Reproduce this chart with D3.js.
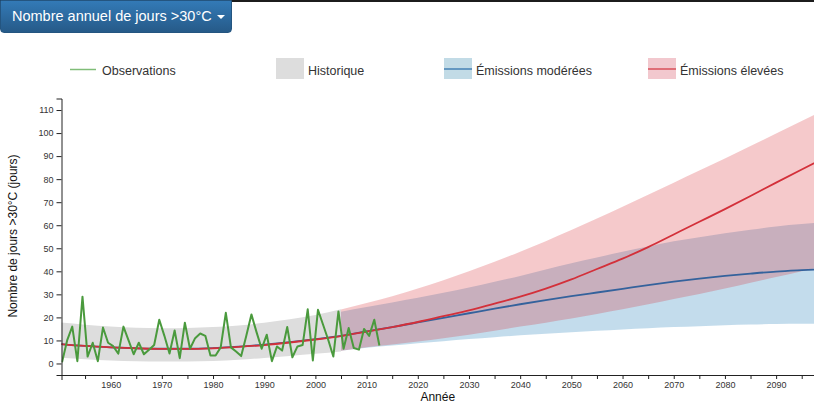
<!DOCTYPE html>
<html>
<head>
<meta charset="utf-8">
<script src="https://cdn.jsdelivr.net/npm/d3@7"></script>
<style>
  body { margin: 0; background: #fff; font-family: "Helvetica Neue", Helvetica, Arial, "Liberation Sans", sans-serif; }
  #topbar { position: absolute; left: 0; top: 0; width: 814px; height: 2px; background: #1c1c1c; }
  #btn {
    position: absolute; left: 0; top: 0; width: 232px; height: 33px; box-sizing: border-box;
    background: linear-gradient(to bottom, #337ab7 0, #265a88 100%);
    border: 1px solid #245580; border-radius: 0 0 4px 4px;
    color: #fff; font-size: 14.5px; line-height: 31px; padding-left: 11px; white-space: nowrap;
  }
  #btn .caret { display: inline-block; width: 0; height: 0; margin-left: 5px; vertical-align: middle;
    border-top: 4px solid #fff; border-left: 4px solid transparent; border-right: 4px solid transparent; }
  #chart { position: absolute; left: 0; top: 0; }
  .axis text { font-size: 9px; fill: #333; font-family: "Liberation Sans", Arial, sans-serif; }
  .axis path, .axis line { stroke: #222; }
</style>
</head>
<body>
<div id="topbar"></div>
<div id="btn">Nombre annuel de jours &gt;30°C<span class="caret"></span></div>
<div id="chart"></div>
<script>
// observations 1950-2012
var obsStart = 1950;
var obsValues = [0.5, 10, 16, 1, 29, 3, 9, 1, 15.6, 9,
  7.5, 4.3, 16, 10, 4, 9, 4, 6, 8, 19,
  12, 4.3, 14.3, 2.3, 17.7, 6.4, 11, 13, 12, 3.5,
  3.5, 7, 22, 7, 5.2, 3.2, 12, 21.3, 13.6, 6.4,
  12.5, 1, 7.4, 5.6, 15.8, 2.7, 7.4, 8, 23.5, 1.3,
  23.3, 16.8, 10.3, 3, 22.6, 6.4, 15.4, 6.7, 6, 15,
  12, 19, 7.8];

// modelled means, every 5 years 1950-2100
var meanYears = d3.range(1950, 2101, 5);
var modMean = [8.5, 7.6, 7.0, 6.6, 6.4, 6.4, 6.7, 7.3, 8.2, 9.3, 10.6, 12.0, 13.9, 15.8, 17.8, 19.8,
  21.8, 23.8, 25.7, 27.5, 29.2, 30.8, 32.4, 34.0, 35.5, 36.8, 38.0, 39.0, 39.9, 40.5, 41.0];
var highMean = [8.5, 7.6, 7.0, 6.6, 6.3, 6.3, 6.6, 7.2, 8.0, 9.1, 10.4, 11.9, 13.8, 15.8, 18.0, 20.5,
  23.0, 26.0, 29.0, 32.5, 36.5, 41.0, 45.5, 50.5, 56.0, 61.5, 67.0, 72.7, 78.5, 84.2, 89.8];

// historical range 1950-2005
var histYears = d3.range(1950, 2006, 5);
var histLow = [2.5, 1.8, 1.3, 1.0, 0.9, 0.9, 1.1, 1.6, 2.4, 3.3, 4.2, 5.2];
var histHigh = [17.8, 16.8, 16.0, 15.5, 15.3, 15.4, 15.8, 16.5, 17.7, 19.2, 21.0, 23.5];

// projection ranges 2005-2100
var projYears = d3.range(2005, 2101, 5);
var modLow = [5.5, 6.8, 7.8, 8.8, 9.7, 10.6, 11.4, 12.2, 12.9, 13.6, 14.2, 14.8, 15.3, 15.8, 16.2, 16.6, 16.9, 17.1, 17.2, 17.3];
var modHigh = [22.5, 24.5, 26.5, 28.5, 30.7, 33.0, 35.5, 38.0, 40.8, 43.5, 46.0, 48.5, 50.8, 53.0, 54.8, 56.5, 58.0, 59.5, 60.5, 61.5];
var highLow = [5.5, 7.0, 8.2, 9.5, 11.0, 12.5, 14.2, 16.0, 17.7, 19.5, 21.5, 23.5, 25.7, 28.0, 30.2, 32.5, 35.0, 37.5, 40.0, 42.5];
var highHigh = [23.4, 26.2, 29.2, 32.5, 36.1, 40.0, 44.1, 48.5, 53.1, 57.9, 62.9, 68.0, 73.2, 78.4, 83.7, 89.0, 94.4, 99.8, 105.2, 110.6];

var yTicks = d3.range(0, 111, 10);
var xTicks = d3.range(1955, 2100, 5);

var legendItems = [
  {label: "Observations", type: "line", x: 70, color: "#80bd78"},
  {label: "Historique", type: "box", x: 276, fill: "#dddddd"},
  {label: "Émissions modérées", type: "boxline", x: 444, fill: "#c2dbe6", color: "#4682b4"},
  {label: "Émissions élevées", type: "boxline", x: 648, fill: "#f2c8ce", color: "#d9505a"}
];

var w = 814, h = 405;
var margin = {top: 98.5, left: 61.5, bottom: 30};

var svg = d3.select("#chart").append("svg")
    .attr("width", w)
    .attr("height", h);

var x = d3.scaleLinear().domain([1950.4, 2097.4]).range([margin.left, w]);
var y = d3.scaleLinear().domain([-5, 115]).range([h - margin.bottom, margin.top]);

svg.append("clipPath").attr("id", "clip")
  .append("rect")
    .attr("x", margin.left).attr("y", margin.top)
    .attr("width", w - margin.left).attr("height", h - margin.bottom - margin.top);

var plot = svg.append("g").attr("clip-path", "url(#clip)");

function band(years, lo, hi) {
  return years.map(function(yr, i) { return {year: yr, lo: lo[i], hi: hi[i]}; });
}
var area = d3.area()
    .curve(d3.curveMonotoneX)
    .x(function(d) { return x(d.year); })
    .y0(function(d) { return y(d.lo); })
    .y1(function(d) { return y(d.hi); });

var line = d3.line()
    .curve(d3.curveMonotoneX)
    .x(function(d) { return x(d.year); })
    .y(function(d) { return y(d.v); });

plot.append("path")
    .datum(band(histYears, histLow, histHigh))
    .attr("d", area)
    .style("fill", "#dddddd");

plot.append("path")
    .datum(band(projYears, modLow, modHigh))
    .attr("d", area)
    .style("fill", "#4393c3")
    .style("opacity", 0.32);

plot.append("path")
    .datum(band(projYears, highLow, highHigh))
    .attr("d", area)
    .style("fill", "#d6272f")
    .style("opacity", 0.25);

plot.append("path")
    .datum(meanYears.map(function(yr, i) { return {year: yr, v: modMean[i]}; }))
    .attr("d", line)
    .style("fill", "none")
    .style("stroke", "#34629c")
    .style("stroke-width", 1.8);

plot.append("path")
    .datum(meanYears.map(function(yr, i) { return {year: yr, v: highMean[i]}; }))
    .attr("d", line)
    .style("fill", "none")
    .style("stroke", "#d3303a")
    .style("stroke-width", 1.8);

// observations are plotted mid-year
plot.append("path")
    .datum(obsValues.map(function(v, i) { return {year: obsStart + i + 0.5, v: v}; }))
    .attr("d", d3.line().x(function(d) { return x(d.year); }).y(function(d) { return y(d.v); }))
    .style("fill", "none")
    .style("stroke", "#4a9a3d")
    .style("stroke-width", 2)
    .style("stroke-linejoin", "round");

// axes
svg.append("g")
    .attr("class", "axis")
    .attr("transform", "translate(0," + (h - margin.bottom) + ")")
    .call(d3.axisBottom(x).tickValues(xTicks).tickSize(4).tickSizeOuter(5).tickPadding(3)
      .tickFormat(function(d) { return d % 10 === 0 ? d : ""; }));

svg.append("g")
    .attr("class", "axis")
    .attr("transform", "translate(" + margin.left + ",0)")
    .call(d3.axisLeft(y).tickValues(yTicks).tickSize(5).tickSizeOuter(5).tickPadding(3));

svg.append("text")
    .attr("x", (margin.left + w) / 2)
    .attr("y", 401)
    .attr("text-anchor", "middle")
    .style("font-size", "12px")
    .style("fill", "#111")
    .text("Année");

svg.append("text")
    .attr("transform", "translate(17,236) rotate(-90)")
    .attr("text-anchor", "middle")
    .style("font-size", "12px")
    .style("fill", "#111")
    .text("Nombre de jours >30°C (jours)");

// legend
var legend = svg.append("g").attr("class", "legend");
legendItems.forEach(function(d) {
  var g = legend.append("g").attr("transform", "translate(" + d.x + ",0)");
  if (d.type !== "line") {
    g.append("rect").attr("x", 0).attr("y", 58).attr("width", 28).attr("height", 21).style("fill", d.fill);
  }
  if (d.type === "line") {
    g.append("line").attr("x1", 0).attr("x2", 26).attr("y1", 69.5).attr("y2", 69.5)
      .style("stroke", d.color).style("stroke-width", 1.5);
  } else if (d.type === "boxline") {
    g.append("line").attr("x1", 0).attr("x2", 28).attr("y1", 69).attr("y2", 69)
      .style("stroke", d.color).style("stroke-width", 1.5);
  }
  g.append("text")
    .attr("x", 32)
    .attr("y", 74.5)
    .style("font-size", "12.5px")
    .style("fill", "#333")
    .text(d.label);
});
</script>
</body>
</html>
